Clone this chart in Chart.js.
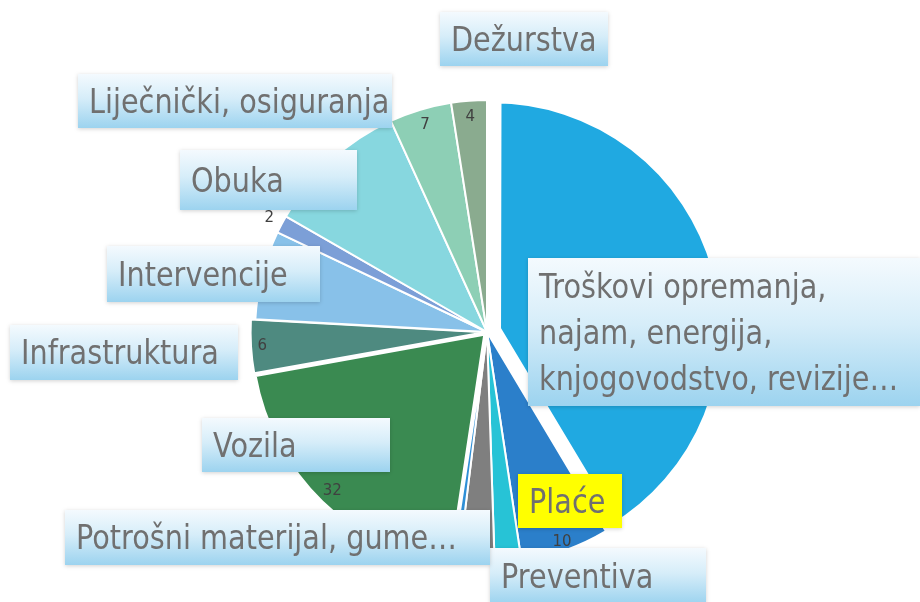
<!DOCTYPE html>
<html>
<head>
<meta charset="utf-8">
<title>Troškovi</title>
<script src="https://cdn.jsdelivr.net/npm/chart.js@4"></script>
<style>
  html, body { margin: 0; padding: 0; background: #ffffff; }
  #wrap { width: 920px; height: 602px; }
</style>
</head>
<body>
<div id="wrap"><canvas id="costPie" width="920" height="602"></canvas></div>
<script>
// slices clockwise from 12 o'clock
const categories = [
    ['Troškovi opremanja,', 'najam, energija,', 'knjogovodstvo, revizije…'],
    'Plaće',
    'Preventiva',
    'Potrošni materijal, gume…',
    '',
    'Vozila',
    'Infrastruktura',
    'Intervencije',
    '',
    'Obuka',
    'Liječnički, osiguranja',
    'Dežurstva'
];
const values = [67, 10, 3, 4, 0.7, 32, 6, 10, 2, 16, 7, 4];
// which value labels are visible in the picture
const valueVisible = [false, true, false, true, false, true, true, false, true, false, true, true];

const sliceColors = ['#20a9e1', '#2b7fca', '#27c3d6', '#7f7f7f', '#2f8fd6', '#3a8a51',
                     '#4e8a80', '#88c1e9', '#7c9fd7', '#87d7df', '#8dcfb5', '#8aab8f'];
// chart.js moves an arc by offset/4 px
const sliceOffsets = [25, 0, 0, 0, 0, 16, 10, 0, 0, 0, 0, 0];
// the exploded big slice gets a wide white rim so it reads smaller
const sliceBorders = [16, 2, 2, 2, 2, 2, 2, 2, 2, 2, 2, 2];

// value label distance (fraction of radius)
const valueRadius = [0.93, 0.96, 0.93, 0.95, 0.93, 0.94, 0.96, 0.93, 1.06, 0.93, 0.93, 0.93];

// callout boxes, relative to pie centre (px): left, top, width, height
const boxLayout = [
    [41, -74, 392, 148],
    [31, 142, 104, 54],
    [3, 216, 216, 56],
    [-422, 178, 425, 55],
    null,
    [-285, 86, 188, 54],
    [-477, -7, 228, 55],
    [-380, -86, 213, 56],
    null,
    [-307, -182, 177, 60],
    [-409, -258, 314, 54],
    [-47, -320, 168, 54]
];
const highlightBox = 1; // Plaće is yellow

const FONT = '"DejaVu Sans", "Noto Sans", sans-serif';
const FONT_SIZE = 33;
const SQUASH = 0.87;
const TEXT_COLOR = '#707070';

function drawBox(ctx, x, y, w, h, yellow) {
    ctx.save();
    ctx.shadowColor = 'rgba(0, 0, 0, 0.18)';
    ctx.shadowBlur = 4;
    ctx.shadowOffsetY = 1;
    if (yellow) {
        ctx.fillStyle = '#ffff00';
    } else {
        const g = ctx.createLinearGradient(0, y, 0, y + h);
        g.addColorStop(0, '#f4fafe');
        g.addColorStop(0.45, '#d6edf9');
        g.addColorStop(1, '#9cd3ef');
        ctx.fillStyle = g;
    }
    ctx.fillRect(x, y, w, h);
    ctx.restore();
}

function drawText(ctx, text, x, y) {
    ctx.save();
    ctx.translate(x, y);
    ctx.scale(SQUASH, 1);
    ctx.fillText(text, 0, 0);
    ctx.restore();
}

const calloutPlugin = {
    id: 'callouts',
    afterDatasetsDraw(chart) {
        const ctx = chart.ctx;
        const arcs = chart.getDatasetMeta(0).data;
        const cx = arcs[0].x;
        const cy = arcs[0].y;

        // small value labels on the slices
        ctx.save();
        ctx.font = '15px ' + FONT;
        ctx.fillStyle = '#404040';
        ctx.textAlign = 'center';
        ctx.textBaseline = 'middle';
        arcs.forEach((arc, i) => {
            if (!valueVisible[i]) return;
            const mid = (arc.startAngle + arc.endAngle) / 2;
            const r = arc.outerRadius * valueRadius[i] + sliceOffsets[i] / 4;
            ctx.fillText(String(values[i]), arc.x + Math.cos(mid) * r, arc.y + Math.sin(mid) * r);
        });
        ctx.restore();

        // category callouts
        ctx.save();
        ctx.font = FONT_SIZE + 'px ' + FONT;
        ctx.textBaseline = 'alphabetic';
        categories.forEach((label, i) => {
            const b = boxLayout[i];
            if (!b || !label) return;
            const x = cx + b[0], y = cy + b[1], w = b[2], h = b[3];
            drawBox(ctx, x, y, w, h, i === highlightBox);
            ctx.fillStyle = TEXT_COLOR;
            const lines = Array.isArray(label) ? label : [label];
            const lineH = 46;
            const firstBase = y + h / 2 + FONT_SIZE * 0.36 - (lines.length - 1) * lineH / 2;
            lines.forEach((line, k) => drawText(ctx, line, x + 11, firstBase + k * lineH));
        });
        ctx.restore();
    }
};

new Chart(document.getElementById('costPie'), {
    type: 'pie',
    data: {
        labels: categories,
        datasets: [{
            data: values,
            backgroundColor: sliceColors,
            borderColor: '#ffffff',
            borderWidth: sliceBorders,
            offset: sliceOffsets
        }]
    },
    options: {
        responsive: false,
        animation: false,
        radius: 232,
        layout: { padding: { left: 54, top: 62, right: 0, bottom: 0 } },
        plugins: {
            legend: { display: false },
            tooltip: { enabled: false }
        }
    },
    plugins: [calloutPlugin]
});
</script>
</body>
</html>
